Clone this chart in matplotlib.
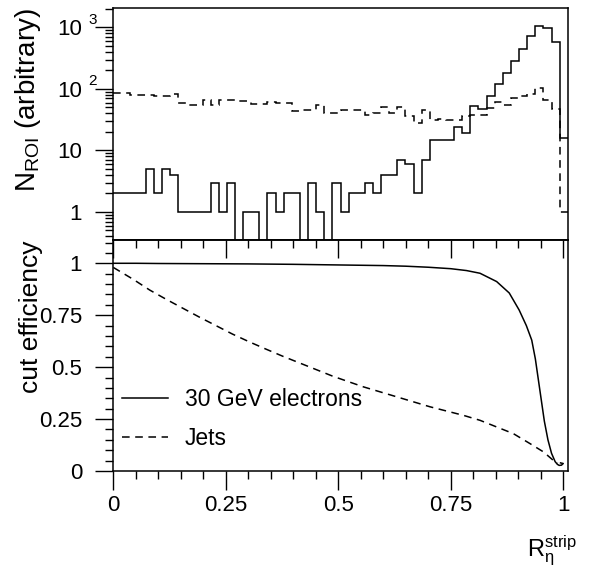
import matplotlib
import matplotlib.pyplot as plt
import numpy as np
from matplotlib.ticker import (FixedFormatter, FixedLocator, FuncFormatter,
                               LogLocator, MultipleLocator, NullFormatter)

matplotlib.use("Agg")

plt.rcParams["font.family"] = ["Liberation Sans", "DejaVu Sans"]
plt.rcParams["mathtext.fontset"] = "custom"
plt.rcParams["mathtext.rm"] = "Liberation Sans"
plt.rcParams["mathtext.it"] = "Liberation Sans:italic"
plt.rcParams["mathtext.sf"] = "Liberation Sans"
plt.rcParams["mathtext.default"] = "regular"
plt.rcParams["lines.scale_dashes"] = False

# histogram binning (56 bins over the axis range)
edges = np.linspace(0.0, 1.01, 57)

electron_counts = [2, 2, 2, 2, 5, 2, 5, 4, 1, 1, 1, 1, 3, 1, 3, 0,
                   1, 1, 0, 2, 1, 2, 2, 0, 3, 1, 0, 3, 1, 2, 2, 3,
                   2, 4, 4, 7, 6, 2, 7, 15, 15, 15, 24, 19, 53, 48,
                   78, 118, 182, 281, 437, 720, 1050, 960, 580, 16]
jet_counts = [86, 86, 79, 79, 79, 77, 77, 84, 58, 54, 54, 65, 55, 66, 66, 64,
              64, 56, 56, 62, 58, 58, 43, 46, 46, 54, 41, 41, 45, 45, 45, 38,
              41, 50, 41, 50, 36, 28, 45, 31, 32, 31, 31, 36, 38, 38,
              49, 62, 54, 72, 77, 84, 105, 66, 47, 1]

# cut efficiency curves
eff_x_electron = [0.0, 0.05, 0.1, 0.2, 0.3, 0.4, 0.5, 0.6, 0.65, 0.7, 0.75,
                  0.785, 0.815, 0.852, 0.88, 0.902, 0.918, 0.93, 0.938, 0.944,
                  0.95, 0.958, 0.966, 0.974, 0.982, 0.987, 0.991, 0.996,
                  1.0, 0.994]
eff_electron = [1.0, 1.0, 0.999, 0.998, 0.997, 0.995, 0.992, 0.989, 0.986,
                0.981, 0.974, 0.965, 0.952, 0.912, 0.857, 0.775, 0.70, 0.63,
                0.54, 0.45, 0.36, 0.24, 0.15, 0.085, 0.045, 0.032, 0.027,
                0.028, 0.036, 0.039]

eff_x_jets = [0.0, 0.044, 0.081, 0.118, 0.155, 0.192, 0.229, 0.265, 0.302,
              0.339, 0.376, 0.413, 0.45, 0.487, 0.524, 0.556, 0.63, 0.704,
              0.778, 0.815, 0.852, 0.889, 0.926, 0.956, 0.978, 0.988]
eff_jets = [0.98, 0.923, 0.871, 0.826, 0.783, 0.74, 0.699, 0.659, 0.622,
            0.587, 0.553, 0.521, 0.489, 0.457, 0.429, 0.405, 0.357, 0.309,
            0.268, 0.244, 0.212, 0.18, 0.132, 0.092, 0.051, 0.038]

decades = [1, 10, 100, 1000]
decade_labels = ["1", "10", "10", "10"]
decade_exponents = ["", "", "2", "3"]

DASH = (0, (5.5, 4.0))
LW = 1.1
TICK_FS = 16

fig = plt.figure(figsize=(5.89, 5.70), dpi=100)
ax_top = fig.add_axes([0.1924, 0.5789, 0.7715, 0.4070])
ax_bot = fig.add_axes([0.1924, 0.1737, 0.7715, 0.4052])

# --- top: N_ROI distributions ---
ax_top.stairs(np.clip(electron_counts, 1e-2, None), edges, baseline=None,
              color="black", linewidth=LW)
ax_top.stairs(np.clip(jet_counts, 1e-2, None), edges, baseline=None,
              color="black", linewidth=LW, linestyle=DASH)
ax_top.set_yscale("log")
ax_top.set_xlim(0, 1.01)
ax_top.set_ylim(0.35, 2060)
ax_top.yaxis.set_major_locator(FixedLocator(decades))
ax_top.yaxis.set_major_formatter(FixedFormatter(decade_labels))
ax_top.yaxis.set_minor_locator(LogLocator(base=10, subs=range(2, 10), numticks=20))
ax_top.yaxis.set_minor_formatter(NullFormatter())
ax_top.tick_params(axis="x", which="both", bottom=False, top=False, labelbottom=False)
ax_top.tick_params(axis="y", which="both", direction="out", left=True, right=False,
                   width=1.0)
ax_top.tick_params(axis="y", which="major", length=13, pad=9.5, labelsize=TICK_FS)
ax_top.tick_params(axis="y", which="minor", length=6)
for val, exp in zip(decades, decade_exponents):
    if exp:
        ax_top.annotate(exp, xy=(0, val), xycoords=("axes fraction", "data"),
                        xytext=(-18, 2.5), textcoords="offset points",
                        ha="left", va="baseline", fontsize=11)
ax_top.set_ylabel(r"N$_{\rm ROI}$ (arbitrary)", fontsize=20, loc="top")
ax_top.yaxis.set_label_coords(-0.155, 1.0)

# --- bottom: cut efficiency ---
ax_bot.plot(eff_x_electron, eff_electron, color="black", linewidth=LW,
            label="30 GeV electrons")
ax_bot.plot(eff_x_jets, eff_jets, color="black", linewidth=LW, linestyle=DASH,
            label="Jets")
ax_bot.set_xlim(0, 1.01)
ax_bot.set_ylim(0, 1.112)
fmt = FuncFormatter(lambda v, _: f"{v:g}")
for axis in (ax_bot.xaxis, ax_bot.yaxis):
    axis.set_major_locator(MultipleLocator(0.25))
    axis.set_minor_locator(MultipleLocator(0.05))
    axis.set_major_formatter(fmt)
ax_bot.tick_params(axis="both", which="both", direction="out", width=1.0,
                   top=False, right=False)
ax_bot.tick_params(axis="x", which="major", length=14, pad=3, labelsize=TICK_FS)
ax_bot.tick_params(axis="y", which="major", length=13, pad=9.5, labelsize=TICK_FS)
ax_bot.tick_params(axis="both", which="minor", length=6)

sec = ax_bot.secondary_xaxis("top")
sec.xaxis.set_major_locator(MultipleLocator(0.25))
sec.xaxis.set_minor_locator(MultipleLocator(0.05))
sec.xaxis.set_major_formatter(NullFormatter())
sec.tick_params(which="both", direction="in", width=1.0)
sec.tick_params(which="major", length=13)
sec.tick_params(which="minor", length=6)

ax_bot.legend(loc="center left", bbox_to_anchor=(0.019, 0.225), frameon=False,
              fontsize=16.5, handlelength=2.0, handletextpad=0.75,
              labelspacing=0.7, borderpad=0, borderaxespad=0)

ax_bot.set_ylabel("cut efficiency", fontsize=19, loc="top")
ax_bot.yaxis.set_label_coords(-0.155, 1.0)
ax_bot.set_xlabel(r"R$_{\eta}^{\rm strip}$", fontsize=17, loc="right")
ax_bot.xaxis.set_label_coords(1.02, -0.272)

for ax in (ax_top, ax_bot):
    for spine in ax.spines.values():
        spine.set_linewidth(LW)
sec.spines["top"].set_linewidth(LW)

fig.savefig("out.png", dpi=100)
plt.close(fig)
